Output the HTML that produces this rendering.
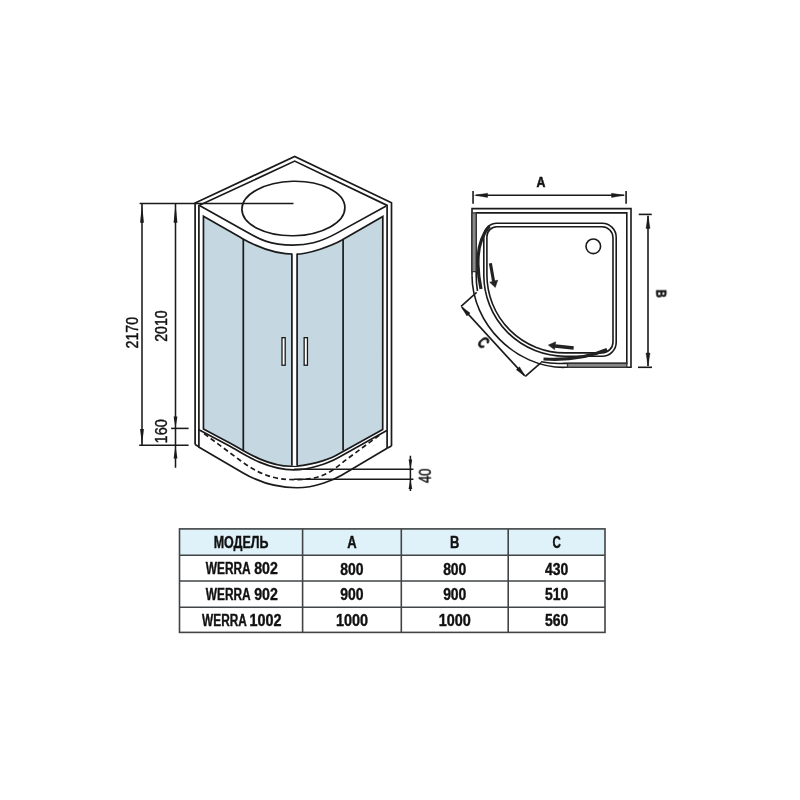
<!DOCTYPE html>
<html><head><meta charset="utf-8">
<style>
html,body{margin:0;padding:0;background:#fff;width:800px;height:800px;overflow:hidden}
svg{display:block}
text{font-family:"Liberation Sans",sans-serif}
</style></head>
<body>
<svg width="800" height="800" viewBox="0 0 800 800">
<rect x="0" y="0" width="800" height="800" fill="#fff"/>

<!-- ============ CABIN ============ -->
<g id="cabin" fill="none" stroke="#1a1a1a" stroke-width="1.7" stroke-linejoin="miter">
  <!-- glass -->
  <path d="M203.45,216.20 L241.15,237.84 C249.98,242.91 269.68,254.27 295.39,254.27 C308.59,254.27 332.86,245.37 341.51,240.35 L382.80,216.40 L382.70,429.40 L336.36,455.35 C327.81,460.14 307.42,466.25 290.80,466.25 C265.21,466.25 239.82,448.20 230.72,443.41 L203.45,429.10 Z" fill="#c5d8e1"/>
  <!-- dividers -->
  <line x1="243.3" y1="239" x2="243.3" y2="450"/>
  <line x1="343.1" y1="239" x2="343.1" y2="450.5"/>
  <rect x="291.9" y="252.5" width="5.2" height="213.3" fill="#fff" stroke="none"/><line x1="291.9" y1="253.5" x2="291.9" y2="465.8"/><line x1="297.1" y1="253.5" x2="297.1" y2="465.8"/>
  <!-- handles -->
  <rect x="282" y="337.65" width="3.2" height="27.6" fill="#fff" stroke-width="1.3"/>
  <rect x="304.15" y="337.65" width="3.3" height="27.6" fill="#fff" stroke-width="1.3"/>
  <!-- roof -->
  <polyline points="195.1,444.6 195.1,203 294.7,156.4 391.5,202.8 391.5,446"/>
  <polyline points="198.9,446.7 198.9,205.6 294.7,161.1 387.1,205.4 387.1,448.3"/>
  <line x1="195.1" y1="444.6" x2="198.9" y2="446.7"/>
  <line x1="387.1" y1="448.3" x2="391.5" y2="446"/>
  <path d="M199.50,205.50 L245.46,231.24 C255.98,237.13 266.84,245.04 292.81,245.04 C306.80,245.04 319.06,242.96 337.33,232.87 L386.20,205.90"/>
  <!-- ellipse -->
  <ellipse cx="293.4" cy="208.5" rx="51.5" ry="27.25" transform="rotate(-1.2 293.4 208.5)"/>
  <!-- tray -->
  <path d="M198.90,429.75 L229.09,445.66 C237.88,450.29 263.94,469.83 293.90,469.83 C308.51,469.83 327.82,463.43 337.61,457.94 L386.80,430.40"/>
  <path d="M204.10,433.65 L239.98,460.27 C264.70,478.61 280.37,479.65 297.43,479.65 C325.82,479.65 336.05,467.13 346.44,459.47 L381.00,434.00" stroke-dasharray="5,3.2"/>
  <path d="M198.25,446.65 L243.14,472.91 C264.29,485.29 284.72,487.76 296.77,487.76 C315.21,487.76 333.67,479.82 341.59,475.15 L387.10,448.30"/>
</g>

<!-- dims cabin -->
<g fill="none" stroke="#1a1a1a" stroke-width="1.55">
  <line x1="139.6" y1="203.4" x2="293.5" y2="203.4"/>
  <line x1="142" y1="204" x2="142" y2="445"/>
  <line x1="175.5" y1="204" x2="175.5" y2="467.8"/>
  <line x1="139.2" y1="445.3" x2="188.6" y2="445.3"/>
  <line x1="171.1" y1="428.4" x2="188.6" y2="428.4"/>
  <line x1="294" y1="469.3" x2="413.4" y2="469.3"/>
  <line x1="294" y1="479.2" x2="413.4" y2="479.2"/>
  <line x1="410.4" y1="455.75" x2="410.4" y2="491"/>
</g>
<g fill="#1a1a1a" stroke="none">
  <polygon points="142,204 140.1,222.8 143.9,222.8"/>
  <polygon points="142,445 140.1,428.9 143.9,428.9"/>
  <polygon points="175.5,204 173.6,222.8 177.4,222.8"/>
  <polygon points="175.5,428 173.6,416.6 177.4,416.6"/>
  <polygon points="175.5,446 173.6,458.6 177.4,458.6"/>
  <polygon points="410.4,469.3 408.6,459.5 412.2,459.5"/>
  <polygon points="410.4,479.2 408.6,489 412.2,489"/>
</g>
<g fill="#111" stroke="#111" stroke-width="0.45" font-size="16.6" text-anchor="middle" style="filter:grayscale(1)">
  <text transform="translate(132.2,332.65) rotate(-90)" y="5.85" textLength="31.5" lengthAdjust="spacingAndGlyphs">2170</text>
  <text transform="translate(161.6,326.1) rotate(-90)" y="5.85" textLength="31.5" lengthAdjust="spacingAndGlyphs">2010</text>
  <text transform="translate(161.3,431.3) rotate(-90)" y="5.85" textLength="24.2" lengthAdjust="spacingAndGlyphs">160</text>
  <text transform="translate(424.8,475.8) rotate(-90)" y="5.6" textLength="14.6" lengthAdjust="spacingAndGlyphs">40</text>
</g>

<!-- ============ PLAN ============ -->
<g fill="none" stroke="#1a1a1a" stroke-width="1.6">
  <!-- A dim -->
  <line x1="476" y1="195.3" x2="624" y2="195.3"/>
  <line x1="473.05" y1="191.1" x2="473.05" y2="203.8"/>
  <line x1="626.1" y1="191.1" x2="626.1" y2="203.8"/>
  <!-- B dim -->
  <line x1="648" y1="216" x2="648" y2="366"/>
  <line x1="638.75" y1="214.4" x2="651.75" y2="214.4"/>
  <line x1="638" y1="367.3" x2="652" y2="367.3"/>
  <!-- C dim -->
  <line x1="462" y1="307.4" x2="524.4" y2="375.4"/>
  <line x1="461.1" y1="306.4" x2="476.65" y2="292.4"/>
  <line x1="525.3" y1="376.4" x2="541.05" y2="362.65"/>
</g>
<g fill="#1a1a1a" stroke="#1a1a1a" stroke-width="0.4" stroke-linejoin="round">
  <polygon points="474.6,195.3 487.6,193.2 487.6,197.4"/>
  <polygon points="624.5,195.3 611.5,193.2 611.5,197.4"/>
  <polygon points="648,215.5 646,228.5 650,228.5"/>
  <polygon points="648,366 646,353 650,353"/>
  <polygon points="461.1,306.4 470.1,313.0 466.9,316.0"/>
  <polygon points="525.3,376.4 519.5,366.8 516.3,369.8"/>
</g>
<g fill="none" stroke="#1a1a1a" stroke-width="1.6">
  <!-- frame -->
  <path d="M472,275.5 L472,208.6 L631,208.6 L631,367.3 L564,367.3"/>
  <path d="M476.2,271.6 L476.2,212.9 L626.8,212.9 L626.8,363.4 L567.5,363.4"/>
  <rect x="472" y="212.9" width="4.2" height="58.7" fill="#8a8a8a" stroke="#333" stroke-width="1.3"/>
  <rect x="567.5" y="363.4" width="59.3" height="3.9" fill="#8a8a8a" stroke="#333" stroke-width="1.3"/>
  <path d="M472,275.5 C472,324 515.5,367.4 564,367.4"/>
  <path d="M476.2,271.6 L476.2,275.5 A88,88 0 0 0 477.5,291"/>
  <path d="M541,361.8 A88,88 0 0 0 564,363.4 L567.5,363.4"/>
  <!-- tray -->
  <path d="M483.8,275 L483.8,236.25 A13,13 0 0 1 496.8,223.25 L602.2,223.25 A14,14 0 0 1 616.2,237.25 L616.2,342.2 A14,14 0 0 1 602.2,356.2 L565,356.2 A81.2,81.2 0 0 1 483.8,275 Z"/>
  <path d="M486.9,275 L486.9,236.75 A10,10 0 0 1 496.9,226.75 L602,226.75 A11,11 0 0 1 613,237.75 L613,341.9 A11,11 0 0 1 602,352.9 L565,352.9 A78.1,78.1 0 0 1 486.9,275 Z"/>
  <circle cx="593.3" cy="246.3" r="7.3"/>
  <!-- doors -->
  <path d="M489.5,226 C481,236 477.5,250 478,265 C478.2,275 479.5,282 481,289" stroke-width="3.2" stroke="#222"/>
  <path d="M543.5,359 C560,360 585,359 607,349.5" stroke-width="3.2" stroke="#222"/>
  <!-- arrows -->
  <line x1="490.4" y1="263.3" x2="493.6" y2="281.5" stroke-width="3.1" stroke="#222"/>
  <line x1="573.65" y1="348" x2="555" y2="346" stroke-width="3.6" stroke="#222"/>
</g>
<g fill="#222" stroke="#222" stroke-width="0.5" stroke-linejoin="round">
  <polygon points="495.3,287.5 497.8,280.1 489.7,282.2"/>
  <polygon points="548.3,345.1 555.7,341.8 554.6,349.65"/>
</g>
<g fill="#111" stroke="#111" stroke-width="0.3" font-weight="bold" font-size="15.4" text-anchor="middle" style="filter:grayscale(1)">
  <text transform="translate(541,181.6)" y="5.3" textLength="8.9" lengthAdjust="spacingAndGlyphs" stroke-width="0.6">A</text>
  <text transform="translate(662.3,293.7) rotate(90)" y="5.5" textLength="8" lengthAdjust="spacingAndGlyphs" stroke-width="0.6">B</text>
  <text transform="translate(483.6,342.5) rotate(47)" y="5.9" font-size="17" textLength="8.3" lengthAdjust="spacingAndGlyphs" stroke-width="0.7">C</text>
</g>

<!-- ============ TABLE ============ -->
<g>
  <rect x="179.5" y="528.9" width="425.5" height="26.4" fill="#dff1f9"/>
  <g fill="none" stroke="#404446" stroke-width="1.6">
    <rect x="179.5" y="528.9" width="425.5" height="103.5"/>
    <line x1="302.6" y1="528.9" x2="302.6" y2="632.4"/>
    <line x1="401.3" y1="528.9" x2="401.3" y2="632.4"/>
    <line x1="508.2" y1="528.9" x2="508.2" y2="632.4"/>
    <line x1="179.5" y1="555.3" x2="605" y2="555.3"/>
    <line x1="179.5" y1="581" x2="605" y2="581"/>
    <line x1="179.5" y1="607.3" x2="605" y2="607.3"/>
  </g>
  <g fill="#111" stroke="#111" stroke-width="0.4" font-weight="bold" font-size="16" text-anchor="middle" style="filter:grayscale(1)">
  <text x="241.05" y="547.8" textLength="54.8" lengthAdjust="spacingAndGlyphs">МОДЕЛЬ</text>
  <text x="351.95" y="547.8" textLength="9.4" lengthAdjust="spacingAndGlyphs">A</text>
  <text x="454.75" y="547.8" textLength="9.35" lengthAdjust="spacingAndGlyphs">B</text>
  <text x="556.6" y="547.8" textLength="8.33" lengthAdjust="spacingAndGlyphs">C</text>
  <text x="205.8" y="574.3" text-anchor="start" textLength="44.9" lengthAdjust="spacingAndGlyphs">WERRA</text><text x="254.2" y="574.3" text-anchor="start" textLength="23.6" lengthAdjust="spacingAndGlyphs">802</text>
  <text x="351.95" y="574.5" textLength="23.25" lengthAdjust="spacingAndGlyphs">800</text>
  <text x="454.75" y="574.5" textLength="23.25" lengthAdjust="spacingAndGlyphs">800</text>
  <text x="556.6" y="574.5" textLength="23.25" lengthAdjust="spacingAndGlyphs">430</text>
  <text x="205.8" y="600" text-anchor="start" textLength="44.9" lengthAdjust="spacingAndGlyphs">WERRA</text><text x="254.2" y="600" text-anchor="start" textLength="23.6" lengthAdjust="spacingAndGlyphs">902</text>
  <text x="351.95" y="600.3" textLength="23.25" lengthAdjust="spacingAndGlyphs">900</text>
  <text x="454.75" y="600.3" textLength="23.25" lengthAdjust="spacingAndGlyphs">900</text>
  <text x="556.6" y="600.3" textLength="23.25" lengthAdjust="spacingAndGlyphs">510</text>
  <text x="202.1" y="626.2" text-anchor="start" textLength="44.7" lengthAdjust="spacingAndGlyphs">WERRA</text><text x="249.5" y="626.2" text-anchor="start" textLength="32" lengthAdjust="spacingAndGlyphs">1002</text>
  <text x="351.95" y="626.2" textLength="32.1" lengthAdjust="spacingAndGlyphs">1000</text>
  <text x="454.75" y="626.2" textLength="32.1" lengthAdjust="spacingAndGlyphs">1000</text>
  <text x="556.6" y="626.2" textLength="23.25" lengthAdjust="spacingAndGlyphs">560</text>
</g>
</g>
</svg>
</body></html>
